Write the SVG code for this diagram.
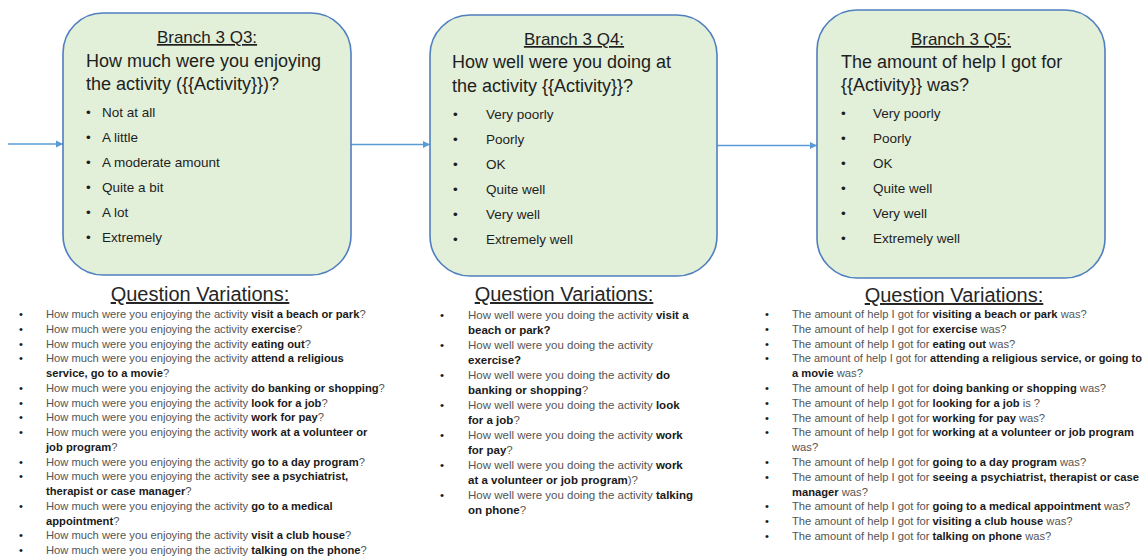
<svg xmlns="http://www.w3.org/2000/svg" width="1145" height="560" viewBox="0 0 1145 560">
  <style>
    .box { fill: #e2efd9; stroke: #4f7fbf; stroke-width: 1.6; }
    .link { stroke: #5b9bd5; stroke-width: 1.6; fill: none; }
    .t { font-family: "Liberation Sans", Arial, sans-serif; fill: #1e1e1e; }
    .title { font-size: 17px; text-decoration: underline; text-anchor: middle; }
    .q { font-size: 18px; }
    .opt { font-size: 13.5px; }
    .head { font-size: 20px; text-decoration: underline; text-anchor: middle; fill: #262626; }
    .v { font-size: 11.2px; fill: #555; white-space: pre; }
    .v2 { font-size: 11.5px; fill: #555; white-space: pre; }
    .b { font-weight: bold; fill: #1a1a1a; }
    .n { font-weight: normal; fill: #555; }
    .dot { fill: #1a1a1a; }
  </style>
  <defs>
    <marker id="arrow" markerWidth="8" markerHeight="8" refX="7" refY="4" orient="auto" markerUnits="userSpaceOnUse">
      <path d="M0,0.5 L7,4 L0,7.5 z" fill="#5b9bd5"/>
    </marker>
  </defs>
  <rect width="1145" height="560" fill="#ffffff"/>

  <!-- connectors -->
  <g id="connectors">
    <line class="link" x1="8" y1="144" x2="63" y2="144" marker-end="url(#arrow)"/>
    <line class="link" x1="351" y1="144.5" x2="430" y2="144.5" marker-end="url(#arrow)"/>
    <line class="link" x1="717" y1="145.5" x2="817" y2="145.5" marker-end="url(#arrow)"/>
  </g>

  <!-- Q3 node -->
  <g id="q3" class="t">
    <rect class="box" x="63" y="13" width="288" height="262" rx="40" ry="40"/>
    <text class="t title" x="207" y="43">Branch 3 Q3:</text>
    <text class="t q" x="86" y="67">How much were you enjoying</text>
    <text class="t q" x="86" y="90">the activity ({{Activity}})?</text>
    <g class="t opt">
      <text x="86" y="117">•</text><text x="102" y="117">Not at all</text>
      <text x="86" y="142">•</text><text x="102" y="142">A little</text>
      <text x="86" y="167">•</text><text x="102" y="167">A moderate amount</text>
      <text x="86" y="192">•</text><text x="102" y="192">Quite a bit</text>
      <text x="86" y="217">•</text><text x="102" y="217">A lot</text>
      <text x="86" y="242">•</text><text x="102" y="242">Extremely</text>
    </g>
  </g>

  <!-- Q4 node -->
  <g id="q4" class="t">
    <rect class="box" x="430" y="15" width="287" height="261" rx="40" ry="40"/>
    <text class="t title" x="574" y="45">Branch 3 Q4:</text>
    <text class="t q" x="452" y="68">How well were you doing at</text>
    <text class="t q" x="452" y="92">the activity {{Activity}}?</text>
    <g class="t opt">
      <text x="453" y="119">•</text><text x="486" y="119">Very poorly</text>
      <text x="453" y="144">•</text><text x="486" y="144">Poorly</text>
      <text x="453" y="169">•</text><text x="486" y="169">OK</text>
      <text x="453" y="194">•</text><text x="486" y="194">Quite well</text>
      <text x="453" y="219">•</text><text x="486" y="219">Very well</text>
      <text x="453" y="244">•</text><text x="486" y="244">Extremely well</text>
    </g>
  </g>

  <!-- Q5 node -->
  <g id="q5" class="t">
    <rect class="box" x="817" y="10" width="288" height="268" rx="40" ry="40"/>
    <text class="t title" x="961" y="45">Branch 3 Q5:</text>
    <text class="t q" x="841" y="68">The amount of help I got for</text>
    <text class="t q" x="841" y="91">{{Activity}} was?</text>
    <g class="t opt">
      <text x="841" y="118">•</text><text x="873" y="118">Very poorly</text>
      <text x="841" y="143">•</text><text x="873" y="143">Poorly</text>
      <text x="841" y="168">•</text><text x="873" y="168">OK</text>
      <text x="841" y="193">•</text><text x="873" y="193">Quite well</text>
      <text x="841" y="218">•</text><text x="873" y="218">Very well</text>
      <text x="841" y="243">•</text><text x="873" y="243">Extremely well</text>
    </g>
  </g>

  <!-- Q3 wording variations -->
  <g id="q3-variations" class="t">
    <text class="t head" x="200" y="301">Question Variations:</text>
    <g class="t v" xml:space="preserve">
      <text x="19" y="318" class="dot">•</text><text x="46" y="318">How much were you enjoying the activity <tspan class="b">visit a beach or park</tspan>?</text>
      <text x="19" y="332.75" class="dot">•</text><text x="46" y="332.75">How much were you enjoying the activity <tspan class="b">exercise</tspan>?</text>
      <text x="19" y="347.5" class="dot">•</text><text x="46" y="347.5">How much were you enjoying the activity  <tspan class="b">eating out</tspan>?</text>
      <text x="19" y="362.25" class="dot">•</text><text x="46" y="362.25">How much were you enjoying  the activity <tspan class="b">attend a religious</tspan></text>
      <text x="46" y="377" class="b">service, go to a movie<tspan class="n">?</tspan></text>
      <text x="19" y="391.75" class="dot">•</text><text x="46" y="391.75">How much were you enjoying the activity <tspan class="b">do banking or shopping</tspan>?</text>
      <text x="19" y="406.5" class="dot">•</text><text x="46" y="406.5">How much were you enjoying the activity <tspan class="b">look for a job</tspan>?</text>
      <text x="19" y="421.25" class="dot">•</text><text x="46" y="421.25">How much were you enjoying the activity <tspan class="b">work for pay</tspan>?</text>
      <text x="19" y="436" class="dot">•</text><text x="46" y="436">How much were you enjoying the activity <tspan class="b">work at a volunteer or</tspan></text>
      <text x="46" y="450.75" class="b">job program<tspan class="n">?</tspan></text>
      <text x="19" y="465.5" class="dot">•</text><text x="46" y="465.5">How much were you enjoying the activity <tspan class="b">go to a day program</tspan>?</text>
      <text x="19" y="480.25" class="dot">•</text><text x="46" y="480.25">How much were you enjoying the activity <tspan class="b">see a psychiatrist,</tspan></text>
      <text x="46" y="495" class="b">therapist or case manager<tspan class="n">?</tspan></text>
      <text x="19" y="509.75" class="dot">•</text><text x="46" y="509.75">How much were you enjoying the activity <tspan class="b">go to a medical</tspan></text>
      <text x="46" y="524.5" class="b">appointment<tspan class="n">?</tspan></text>
      <text x="19" y="539.25" class="dot">•</text><text x="46" y="539.25">How much were you enjoying the activity <tspan class="b">visit a club house</tspan>?</text>
      <text x="19" y="554" class="dot">•</text><text x="46" y="554">How much were you enjoying the activity <tspan class="b">talking on the phone</tspan>?</text>
    </g>
  </g>

  <!-- Q4 wording variations -->
  <g id="q4-variations" class="t">
    <text class="t head" x="564" y="301">Question Variations:</text>
    <g class="t v2" xml:space="preserve">
      <text x="440" y="319" class="dot">•</text><text x="468" y="319">How well were you doing the activity <tspan class="b">visit a</tspan></text>
      <text x="468" y="334" class="b">beach or park?</text>
      <text x="440" y="349" class="dot">•</text><text x="468" y="349">How well were you doing the activity</text>
      <text x="468" y="364" class="b">exercise?</text>
      <text x="440" y="379" class="dot">•</text><text x="468" y="379">How well were you doing the activity <tspan class="b">do</tspan></text>
      <text x="468" y="394" class="b">banking or shopping<tspan class="n">?</tspan></text>
      <text x="440" y="409" class="dot">•</text><text x="468" y="409">How well were you doing the activity <tspan class="b">look</tspan></text>
      <text x="468" y="424" class="b">for a job<tspan class="n">?</tspan></text>
      <text x="440" y="439" class="dot">•</text><text x="468" y="439">How well were you doing the activity <tspan class="b">work</tspan></text>
      <text x="468" y="454" class="b">for pay<tspan class="n">?</tspan></text>
      <text x="440" y="469" class="dot">•</text><text x="468" y="469">How well were you doing the activity <tspan class="b">work</tspan></text>
      <text x="468" y="484" class="b">at a volunteer or job program<tspan class="n">)?</tspan></text>
      <text x="440" y="499" class="dot">•</text><text x="468" y="499">How well were you doing the activity <tspan class="b">talking</tspan></text>
      <text x="468" y="514" class="b">on phone<tspan class="n">?</tspan></text>
    </g>
  </g>

  <!-- Q5 wording variations -->
  <g id="q5-variations" class="t">
    <text class="t head" x="954" y="302">Question Variations:</text>
    <g class="t v" xml:space="preserve">
      <text x="765" y="318" class="dot">•</text><text x="792" y="318">The amount of help I got  for <tspan class="b">visiting a beach or park</tspan> was?</text>
      <text x="765" y="332.8" class="dot">•</text><text x="792" y="332.8">The amount of help I got for <tspan class="b">exercise</tspan> was?</text>
      <text x="765" y="347.6" class="dot">•</text><text x="792" y="347.6">The amount of help I got for <tspan class="b">eating out</tspan> was?</text>
      <text x="765" y="362.4" class="dot">•</text><text x="792" y="362.4" textLength="350" lengthAdjust="spacingAndGlyphs">The amount of help I got for <tspan class="b">attending a religious service, or going to</tspan></text>
      <text x="792" y="377.2"><tspan class="b">a movie</tspan> was?</text>
      <text x="765" y="392" class="dot">•</text><text x="792" y="392">The amount of help I got  for <tspan class="b">doing banking or shopping</tspan> was?</text>
      <text x="765" y="406.8" class="dot">•</text><text x="792" y="406.8">The amount of help I got  for <tspan class="b">looking for a job</tspan> is ?</text>
      <text x="765" y="421.6" class="dot">•</text><text x="792" y="421.6">The amount of help I got  for <tspan class="b">working for pay</tspan> was?</text>
      <text x="765" y="436.4" class="dot">•</text><text x="792" y="436.4">The amount of help I got  for <tspan class="b">working at a volunteer or job program</tspan></text>
      <text x="792" y="451.2">was?</text>
      <text x="765" y="466" class="dot">•</text><text x="792" y="466">The amount of help I got  for <tspan class="b">going to a day program</tspan> was?</text>
      <text x="765" y="480.8" class="dot">•</text><text x="792" y="480.8">The amount of help I got  for <tspan class="b">seeing a psychiatrist, therapist or case</tspan></text>
      <text x="792" y="495.6"><tspan class="b">manager</tspan> was?</text>
      <text x="765" y="510.4" class="dot">•</text><text x="792" y="510.4">The amount of help I got  for <tspan class="b">going to a medical appointment</tspan> was?</text>
      <text x="765" y="525.2" class="dot">•</text><text x="792" y="525.2">The amount of help I got  for <tspan class="b">visiting a club house</tspan> was?</text>
      <text x="765" y="540" class="dot">•</text><text x="792" y="540">The amount of help I got for <tspan class="b">talking on phone</tspan> was?</text>
    </g>
  </g>
</svg>
